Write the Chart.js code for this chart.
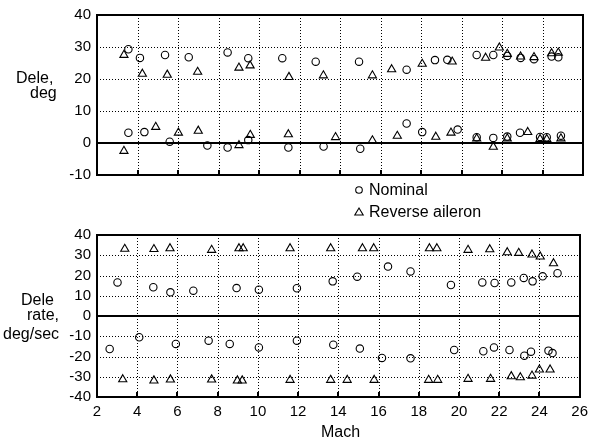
<!DOCTYPE html>
<html>
<head>
<meta charset="utf-8">
<script src="https://cdn.jsdelivr.net/npm/chart.js@4.4.1/dist/chart.umd.min.js"></script>
<style>
  body { margin: 0; background: #fff; }
  #wrap { position: relative; width: 594px; height: 442px; font-family: "Liberation Sans", Arial, sans-serif; color: #000; }
  #wrap canvas { position: absolute; left: 0; top: 0; }
  .lbl { position: absolute; font-size: 16px; line-height: 16px; white-space: nowrap; }
  #legend { position: absolute; left: 353px; top: 180px; }
  #legend svg { position: absolute; left: 0; top: 0; }
</style>
</head>
<body>
<div id="wrap">
  <canvas id="deflection" width="594" height="442"></canvas>
  <canvas id="rate" width="594" height="442"></canvas>

  <div class="lbl" style="left:16px; top:70px;">Dele,</div>
  <div class="lbl" style="left:30px; top:85px;">deg</div>

  <div class="lbl" style="left:21px; top:292px;">Dele</div>
  <div class="lbl" style="left:27px; top:307px;">rate,</div>
  <div class="lbl" style="left:3px; top:326px;">deg/sec</div>

  <div class="lbl" style="left:321px; top:424px;">Mach</div>

  <div id="legend">
    <svg width="20" height="44">
      <circle cx="6" cy="10" r="3.3" fill="none" stroke="#000" stroke-width="1.1"/>
      <polygon points="6,28 10.2,35 1.8,35" fill="none" stroke="#000" stroke-width="1.1"/>
    </svg>
    <div class="lbl" style="left:16px; top:2px;">Nominal</div>
    <div class="lbl" style="left:16px; top:24px;">Reverse aileron</div>
  </div>
</div>

<script>
// Mach ticks shared by both panels
const machMin = 2, machMax = 26, machStep = 2;

// Elevon deflection, deg  (upper panel)
const deleNominalMach = [3.55, 4.12, 5.36, 6.53, 8.45, 9.47, 11.15, 12.8, 14.94, 17.29, 18.69, 19.3, 20.75, 21.57, 22.26, 22.92, 23.58, 24.45, 24.78,
                         3.55, 4.34, 5.59, 7.45, 8.45, 9.47, 11.45, 13.19, 15.0, 17.29, 18.06, 19.81, 20.75, 21.57, 22.26, 22.89, 23.88, 24.21, 24.91];
const deleNominal     = [29.3, 26.6, 27.5, 26.8, 28.3, 26.5, 26.5, 25.4, 25.4, 22.9, 25.9, 26.0, 27.5, 27.5, 27.2, 26.6, 26.2, 27.0, 26.8,
                         3.2, 3.4, 0.4, -0.8, -1.4, 0.9, -1.4, -1.1, -1.8, 6.1, 3.4, 4.2, 1.8, 1.6, 2.0, 3.2, 1.9, 1.8, 2.3];
const deleReverseMach = [3.33, 4.24, 5.47, 6.97, 9.01, 9.56, 11.48, 13.18, 15.6, 16.55, 18.06, 19.54, 21.19, 21.87, 22.26, 22.92, 23.58, 24.45, 24.78,
                         3.33, 4.9, 6.02, 7.0, 9.01, 9.57, 11.45, 13.78, 15.6, 16.83, 18.73, 19.48, 20.75, 21.57, 22.26, 23.27, 23.88, 24.21, 24.91];
const deleReverse     = [27.5, 21.6, 21.3, 22.2, 23.5, 24.2, 20.6, 21.1, 21.1, 23.0, 24.7, 25.4, 26.6, 29.8, 27.8, 27.0, 26.8, 28.0, 28.2,
                         -2.5, 5.0, 3.2, 3.8, -0.7, 2.5, 2.7, 1.8, 0.8, 2.2, 1.9, 3.2, 1.4, -1.2, 1.4, 3.4, 1.2, 1.2, 1.4];

// Elevon rate, deg/sec  (lower panel)
const rateNominalMach = [3.02, 4.8, 5.65, 6.79, 8.94, 10.05, 11.94, 13.72, 14.94, 16.47, 17.59, 19.6, 21.16, 21.77, 22.6, 23.22, 23.66, 24.16, 24.9,
                         2.63, 4.1, 5.92, 7.55, 8.6, 10.05, 11.94, 13.75, 15.07, 16.17, 17.59, 19.76, 21.21, 21.74, 22.51, 23.25, 23.58, 24.45, 24.65];
const rateNominal     = [16.6, 14.2, 11.7, 12.5, 13.8, 13.0, 13.7, 17.1, 19.4, 24.4, 22.0, 15.3, 16.6, 16.3, 16.6, 18.8, 17.1, 19.6, 21.1,
                         -16.3, -10.5, -13.8, -12.2, -13.8, -15.5, -12.2, -14.2, -16.1, -20.7, -20.9, -16.8, -17.4, -15.5, -16.8, -19.6, -17.6, -17.1, -18.3];
const rateReverseMach = [3.38, 4.83, 5.63, 7.7, 9.06, 9.27, 11.6, 13.62, 15.2, 15.76, 18.53, 18.9, 20.45, 21.53, 22.4, 22.97, 23.63, 24.04, 24.7,
                         3.28, 4.83, 5.65, 7.7, 8.98, 9.22, 11.6, 13.62, 14.44, 15.78, 18.49, 18.94, 20.45, 21.57, 22.6, 23.05, 23.63, 24.0, 24.53];
const rateReverse     = [33.1, 33.0, 33.4, 32.6, 33.4, 33.4, 33.4, 33.4, 33.4, 33.4, 33.4, 33.4, 32.6, 32.9, 31.4, 31.1, 30.3, 29.3, 26.0,
                         -31.3, -31.9, -31.4, -31.4, -31.9, -31.9, -31.6, -31.6, -31.6, -31.6, -31.6, -31.6, -31.1, -31.1, -29.8, -30.3, -29.5, -26.5, -26.5];

const pairs = (xs, ys) => xs.map((x, i) => ({ x: x, y: ys[i] }));

const FONT = { family: '"Liberation Sans", Arial, sans-serif', size: 15 };

// dotted grid at every tick, solid frame, heavy zero line and short inward ticks
const frameGrid = {
  id: 'frameGrid',
  afterDraw(chart) {
    const { ctx, chartArea: a } = chart;
    const xs = chart.scales.x, ys = chart.scales.y;
    const L = Math.round(a.left), R = Math.round(a.right);
    const T = Math.round(a.top), B = Math.round(a.bottom);
    ctx.save();
    ctx.fillStyle = '#000';

    xs.ticks.forEach(t => {
      if (t.value <= xs.min || t.value >= xs.max) return;
      const px = Math.round(xs.getPixelForValue(t.value));
      for (let y = T; y < B; y += 3) ctx.fillRect(px, y, 1, 1);
    });
    ys.ticks.forEach(t => {
      if (t.value <= ys.min || t.value >= ys.max || t.value === 0) return;
      const py = Math.round(ys.getPixelForValue(t.value));
      for (let x = L; x < R; x += 3) ctx.fillRect(x, py, 1, 1);
    });

    ctx.fillRect(L - 1, T - 1, R - L + 2, 2);
    ctx.fillRect(L - 1, B - 1, R - L + 2, 2);
    ctx.fillRect(L - 1, T - 1, 2, B - T + 2);
    ctx.fillRect(R - 1, T - 1, 2, B - T + 2);

    const z = Math.round(ys.getPixelForValue(0));
    ctx.fillRect(L, z - 1, R - L, 2);

    xs.ticks.forEach(t => {
      if (t.value <= xs.min || t.value >= xs.max) return;
      const px = Math.round(xs.getPixelForValue(t.value));
      ctx.fillRect(px - 1, B - 5, 2, 5);
    });
    ctx.restore();
  }
};

function panel(canvasId, nomMach, nomVal, revMach, revVal, yMin, yMax, pad, xHeight, showX) {
  return new Chart(document.getElementById(canvasId), {
    type: 'scatter',
    data: {
      datasets: [
        { label: 'Nominal', data: pairs(nomMach, nomVal), pointStyle: 'circle', pointRadius: 3.7,
          borderColor: '#000', backgroundColor: 'rgba(0,0,0,0)', borderWidth: 1.1 },
        { label: 'Reverse aileron', data: pairs(revMach, revVal), pointStyle: 'triangle', pointRadius: 4.7,
          borderColor: '#000', backgroundColor: 'rgba(0,0,0,0)', borderWidth: 1.1 }
      ]
    },
    options: {
      responsive: false,
      animation: false,
      events: [],
      layout: { padding: pad },
      plugins: { legend: { display: false }, tooltip: { enabled: false } },
      scales: {
        x: {
          type: 'linear', min: machMin, max: machMax,
          afterFit(s) { s.height = xHeight; },
          ticks: { display: showX, stepSize: machStep, autoSkip: false, color: '#000', font: FONT, padding: 6, maxRotation: 0 },
          grid: { display: false, drawTicks: false },
          border: { display: false }
        },
        y: {
          type: 'linear', min: yMin, max: yMax,
          afterFit(s) { s.width = 97; },
          ticks: { stepSize: 10, autoSkip: false, color: '#000', font: FONT, padding: 6 },
          grid: { display: false, drawTicks: false },
          border: { display: false }
        }
      }
    },
    plugins: [frameGrid]
  });
}

panel('deflection', deleNominalMach, deleNominal, deleReverseMach, deleReverse,
      -10, 40, { left: 0, right: 11, top: 13, bottom: 267 }, 0, false);
panel('rate', rateNominalMach, rateNominal, rateReverseMach, rateReverse,
      -40, 40, { left: 0, right: 11, top: 235, bottom: 0 }, 45, true);
</script>
</body>
</html>
